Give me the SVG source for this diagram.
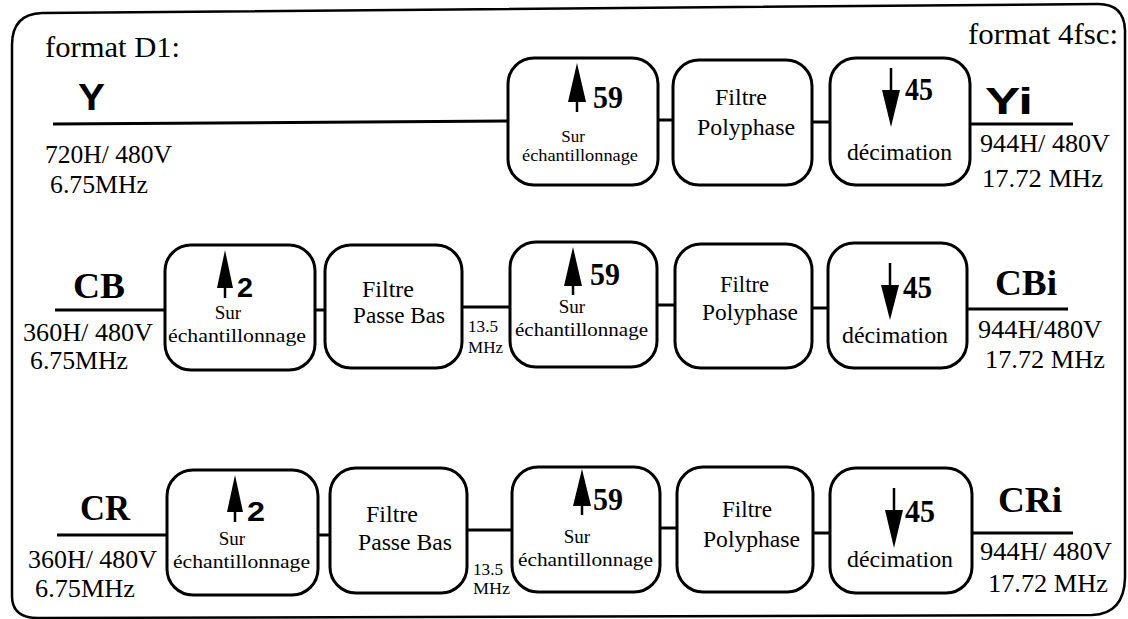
<svg xmlns="http://www.w3.org/2000/svg" width="1128" height="619" viewBox="0 0 1128 619">
<style>
.bg{fill:#fff}
.frame{fill:none;stroke:#000;stroke-width:2.5}
.box{fill:#fff;stroke:#000;stroke-width:3}
.ln{stroke:#000;stroke-width:3;fill:none}
.sh{stroke:#000;stroke-width:2.5}
.hd{fill:#000}
text{font-family:"Liberation Serif","Times New Roman",serif;fill:#000}
.lab{font-size:25px}
.fmt{font-size:30px}
.big{font-size:36px;font-weight:bold}
.sans{font-family:"Liberation Sans",Arial,sans-serif;font-weight:bold}
.num{font-size:31px;font-weight:bold}
.s1{font-size:17px}
.s2{font-size:19px}
.bt{font-size:24px}
.sm{font-size:16px}
</style>
<rect class="bg" x="0" y="0" width="1128" height="619"/>
<path class="frame" d="M12,596 L12,45 Q12,14 42,13 L1098,4 Q1124,4 1125,30 L1125,578 Q1124,614 1092,615 L38,618 Q12,618 12,596 Z"/>
<g id="labels">
<text class="fmt" x="45" y="57" textLength="135" lengthAdjust="spacingAndGlyphs">format D1:</text>
<text class="fmt" x="968" y="44" textLength="150" lengthAdjust="spacingAndGlyphs">format 4fsc:</text>
<text class="sans" x="78" y="110" font-size="37" textLength="27" lengthAdjust="spacingAndGlyphs">Y</text>
<text class="lab" x="45" y="163" textLength="127" lengthAdjust="spacingAndGlyphs">720H/ 480V</text>
<text class="lab" x="50" y="193" textLength="98" lengthAdjust="spacingAndGlyphs">6.75MHz</text>
<text class="sans" x="985" y="114" font-size="36" textLength="48" lengthAdjust="spacingAndGlyphs">Yi</text>
<text class="lab" x="980" y="152" textLength="130" lengthAdjust="spacingAndGlyphs">944H/ 480V</text>
<text class="lab" x="982" y="187" textLength="121" lengthAdjust="spacingAndGlyphs">17.72 MHz</text>
<text class="big" x="73" y="298" textLength="52" lengthAdjust="spacingAndGlyphs">CB</text>
<text class="lab" x="23" y="341" textLength="130" lengthAdjust="spacingAndGlyphs">360H/ 480V</text>
<text class="lab" x="30" y="369" textLength="98" lengthAdjust="spacingAndGlyphs">6.75MHz</text>
<text class="big" x="995" y="295" textLength="62" lengthAdjust="spacingAndGlyphs">CBi</text>
<text class="lab" x="978" y="338" textLength="124" lengthAdjust="spacingAndGlyphs">944H/480V</text>
<text class="lab" x="985" y="368" textLength="120" lengthAdjust="spacingAndGlyphs">17.72 MHz</text>
<text class="sm" x="468" y="332" textLength="30" lengthAdjust="spacingAndGlyphs">13.5</text>
<text class="sm" x="468" y="353" textLength="35" lengthAdjust="spacingAndGlyphs">MHz</text>
<text class="big" x="80" y="520" textLength="50" lengthAdjust="spacingAndGlyphs">CR</text>
<text class="lab" x="28" y="568" textLength="129" lengthAdjust="spacingAndGlyphs">360H/ 480V</text>
<text class="lab" x="35" y="597" textLength="100" lengthAdjust="spacingAndGlyphs">6.75MHz</text>
<text class="big" x="998" y="512" textLength="64" lengthAdjust="spacingAndGlyphs">CRi</text>
<text class="lab" x="980" y="560" textLength="132" lengthAdjust="spacingAndGlyphs">944H/ 480V</text>
<text class="lab" x="988" y="592" textLength="120" lengthAdjust="spacingAndGlyphs">17.72 MHz</text>
<text class="sm" x="473" y="575" textLength="30" lengthAdjust="spacingAndGlyphs">13.5</text>
<text class="sm" x="473" y="594" textLength="37" lengthAdjust="spacingAndGlyphs">MHz</text>
</g>
<g id="connectors">
<path class="ln" d="M53,124 L508,121"/>
<path class="ln" d="M658,120 L673,120"/>
<path class="ln" d="M812,122 L830,122"/>
<path class="ln" d="M970,124 L1073,124"/>
<path class="ln" d="M55,310 L165,310"/>
<path class="ln" d="M315,310 L325,310"/>
<path class="ln" d="M462,307 L510,307"/>
<path class="ln" d="M657,305 L675,305"/>
<path class="ln" d="M812,308 L828,308"/>
<path class="ln" d="M967,309 L1068,309"/>
<path class="ln" d="M57,535 L167,535"/>
<path class="ln" d="M318,535 L330,535"/>
<path class="ln" d="M467,530 L512,530"/>
<path class="ln" d="M660,528 L677,528"/>
<path class="ln" d="M813,533 L830,533"/>
<path class="ln" d="M972,533 L1073,533"/>
</g>
<g id="y-up">
<rect class="box" x="508" y="58" width="150" height="127" rx="26"/>
<line class="sh" x1="577" y1="90" x2="577" y2="112"/>
<path class="hd" d="M577,63 L586,102 L568,102 Z"/>
<text class="num" x="593" y="108" textLength="30" lengthAdjust="spacingAndGlyphs">59</text>
<text class="s1" x="573" y="142" text-anchor="middle">Sur</text>
<text class="s1" x="522" y="161" textLength="116" lengthAdjust="spacingAndGlyphs">échantillonnage</text>
</g>
<g id="y-poly">
<rect class="box" x="673" y="60" width="139" height="125" rx="26"/>
<text class="bt" x="715" y="105" textLength="52" lengthAdjust="spacingAndGlyphs">Filtre</text>
<text class="bt" x="697" y="135" textLength="98" lengthAdjust="spacingAndGlyphs">Polyphase</text>
</g>
<g id="y-dec">
<rect class="box" x="830" y="58" width="140" height="127" rx="26"/>
<line class="sh" x1="891" y1="68" x2="891" y2="95"/>
<path class="hd" d="M891,127 L882,90 L900,90 Z"/>
<text class="num" x="905" y="100" textLength="28" lengthAdjust="spacingAndGlyphs">45</text>
<text class="bt" x="847" y="160" textLength="105" lengthAdjust="spacingAndGlyphs">décimation</text>
</g>
<g id="cb-up2">
<rect class="box" x="165" y="245" width="150" height="125" rx="26"/>
<line class="sh" x1="225" y1="280" x2="225" y2="298"/>
<path class="hd" d="M225,250 L233,288 L217,288 Z"/>
<text class="sans" x="237" y="297" font-size="28" textLength="16" lengthAdjust="spacingAndGlyphs">2</text>
<text class="s2" x="228" y="319" text-anchor="middle">Sur</text>
<text class="s2" x="168" y="342" textLength="138" lengthAdjust="spacingAndGlyphs">échantillonnage</text>
</g>
<g id="cb-lpf">
<rect class="box" x="325" y="245" width="137" height="123" rx="26"/>
<text class="bt" x="362" y="297" textLength="52" lengthAdjust="spacingAndGlyphs">Filtre</text>
<text class="bt" x="353" y="323" textLength="92" lengthAdjust="spacingAndGlyphs">Passe Bas</text>
</g>
<g id="cb-up59">
<rect class="box" x="510" y="242" width="147" height="125" rx="26"/>
<line class="sh" x1="573" y1="275" x2="573" y2="295"/>
<path class="hd" d="M573,247 L582,286 L564,286 Z"/>
<text class="num" x="590" y="285" textLength="30" lengthAdjust="spacingAndGlyphs">59</text>
<text class="s2" x="572" y="313" text-anchor="middle">Sur</text>
<text class="s2" x="515" y="336" textLength="133" lengthAdjust="spacingAndGlyphs">échantillonnage</text>
</g>
<g id="cb-poly">
<rect class="box" x="675" y="244" width="137" height="124" rx="26"/>
<text class="bt" x="720" y="292" textLength="49" lengthAdjust="spacingAndGlyphs">Filtre</text>
<text class="bt" x="702" y="320" textLength="96" lengthAdjust="spacingAndGlyphs">Polyphase</text>
</g>
<g id="cb-dec">
<rect class="box" x="828" y="243" width="139" height="125" rx="26"/>
<line class="sh" x1="890" y1="263" x2="890" y2="292"/>
<path class="hd" d="M890,320 L881,285 L899,285 Z"/>
<text class="num" x="903" y="298" textLength="29" lengthAdjust="spacingAndGlyphs">45</text>
<text class="bt" x="842" y="343" textLength="106" lengthAdjust="spacingAndGlyphs">décimation</text>
</g>
<g id="cr-up2">
<rect class="box" x="167" y="470" width="151" height="125" rx="26"/>
<line class="sh" x1="235" y1="505" x2="235" y2="522"/>
<path class="hd" d="M235,475 L243,512 L227,512 Z"/>
<text class="sans" x="247" y="521" font-size="28" textLength="18" lengthAdjust="spacingAndGlyphs">2</text>
<text class="s2" x="232" y="545" text-anchor="middle">Sur</text>
<text class="s2" x="173" y="568" textLength="137" lengthAdjust="spacingAndGlyphs">échantillonnage</text>
</g>
<g id="cr-lpf">
<rect class="box" x="330" y="468" width="137" height="125" rx="26"/>
<text class="bt" x="366" y="522" textLength="52" lengthAdjust="spacingAndGlyphs">Filtre</text>
<text class="bt" x="358" y="550" textLength="94" lengthAdjust="spacingAndGlyphs">Passe Bas</text>
</g>
<g id="cr-up59">
<rect class="box" x="512" y="467" width="148" height="125" rx="26"/>
<line class="sh" x1="582" y1="500" x2="582" y2="515"/>
<path class="hd" d="M582,469 L591,506 L573,506 Z"/>
<text class="num" x="593" y="510" textLength="30" lengthAdjust="spacingAndGlyphs">59</text>
<text class="s2" x="577" y="543" text-anchor="middle">Sur</text>
<text class="s2" x="518" y="566" textLength="135" lengthAdjust="spacingAndGlyphs">échantillonnage</text>
</g>
<g id="cr-poly">
<rect class="box" x="677" y="467" width="136" height="125" rx="26"/>
<text class="bt" x="722" y="517" textLength="50" lengthAdjust="spacingAndGlyphs">Filtre</text>
<text class="bt" x="703" y="547" textLength="97" lengthAdjust="spacingAndGlyphs">Polyphase</text>
</g>
<g id="cr-dec">
<rect class="box" x="830" y="468" width="142" height="125" rx="26"/>
<line class="sh" x1="894" y1="488" x2="894" y2="515"/>
<path class="hd" d="M894,548 L885,510 L903,510 Z"/>
<text class="num" x="905" y="522" textLength="30" lengthAdjust="spacingAndGlyphs">45</text>
<text class="bt" x="847" y="567" textLength="106" lengthAdjust="spacingAndGlyphs">décimation</text>
</g>
</svg>
